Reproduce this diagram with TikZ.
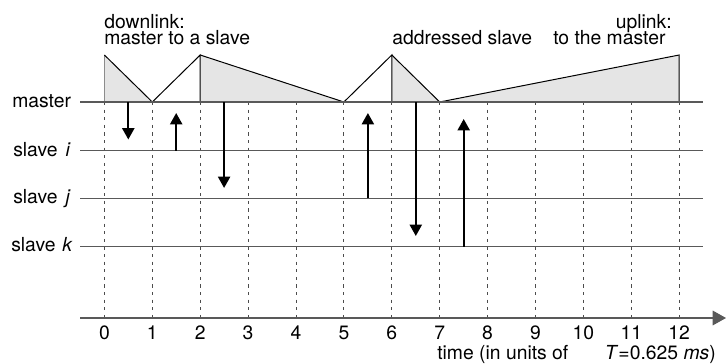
\documentclass[tikz,border=0pt]{standalone}
\usepackage{fontspec}
\setmainfont{TeX Gyre Heros}
\usetikzlibrary{arrows.meta}
\begin{document}
\begin{tikzpicture}[x=0.75pt,y=-0.75pt,
  lbl/.style={inner sep=0pt, font=\fontsize{14.5}{16}\selectfont},
  tl/.style={draw=black!65, line width=0.9pt},
  gridln/.style={draw=black!70, line width=0.75pt, dash pattern=on 2.4pt off 3.3pt},
  sig/.style={draw=black, line width=1.6pt, -{Triangle[length=8.5pt,width=9pt]}},
  slot/.style={draw=black, line width=0.75pt},
  slotfill/.style={fill=black!10, draw=none},
  ]
\useasboundingbox (0,0) rectangle (726,364);
% tick coordinates
\foreach \k in {0,...,12}{
  \coordinate (t\k) at ({104.4+47.9*\k},102);
  \coordinate (h\k) at ({104.4+47.9*\k},55);
  \coordinate (b\k) at ({104.4+47.9*\k},318);
}
% slot shapes
\fill[slotfill] (t0) -- (h0) -- (t1) -- cycle;
\fill[slotfill] (t2) -- (h2) -- (t5) -- cycle;
\fill[slotfill] (t6) -- (h6) -- (t7) -- cycle;
\fill[slotfill] (t7) -- (h12) -- (t12) -- cycle;
\draw[draw=black!45, line width=0.75pt] (t0) -- (h0);
\draw[slot] (h0) -- (t1) -- (h2) -- (t2);
\draw[slot] (h2) -- (t5) -- (h6) -- (t6);
\draw[slot] (h6) -- (t7) -- (h12) -- (t12);
% dashed grid
\foreach \k in {0,...,12}{
  \draw[gridln] (t\k) -- (b\k);
}
% time lines
\coordinate (mL) at (80,102);  \coordinate (mR) at (703,102);
\coordinate (iL) at (80,150.7); \coordinate (iR) at (703,150.7);
\coordinate (jL) at (80,198.3); \coordinate (jR) at (703,198.3);
\coordinate (kL) at (80,246.5); \coordinate (kR) at (703,246.5);
\coordinate (aL) at (80,318);   \coordinate (aR) at (726,318);
\draw[tl] (mL) -- (mR);
\draw[tl] (iL) -- (iR);
\draw[tl] (jL) -- (jR);
\draw[tl] (kL) -- (kR);
\draw[tl, -{Triangle[length=10pt,width=11pt]}] (aL) -- (aR);
% labels
\node[lbl, anchor=base west] (lm) at (12,108) {master};
\node[lbl, anchor=base west] (li) at (13,156) {slave\hspace{6pt}\textit{i}};
\node[lbl, anchor=base west] (lj) at (13,203.5) {slave\hspace{6pt}\textit{j}};
\node[lbl, anchor=base west] (lk) at (11,251.5) {slave\hspace{5pt}\textit{k}};
\foreach \k in {0,...,12}{
  \node[lbl, anchor=base] (n\k) at ({104.4+47.9*\k},339) {\k};
}
\node[lbl, anchor=base west] (dl1) at (104,28) {downlink:};
\node[lbl, anchor=base west] (dl2) at (104,45) {master to a slave};
\node[lbl, anchor=base west] (as) at (392,45) {addressed slave};
\node[lbl, anchor=base east] (ul1) at (672,28) {uplink:};
\node[lbl, anchor=base west] (ul2) at (553,45) {to the master};
\node[lbl, anchor=base west] (tm1) at (437,359.5) {time (in units of};
\node[lbl, anchor=base east] (tm2) at (716,359.5) {\textit{T}=0.625 \textit{ms})};
% signal arrows
\coordinate (s1a) at (128.3,102);   \coordinate (s1b) at (128.3,139.5);
\coordinate (s2a) at (176.2,150.7); \coordinate (s2b) at (176.2,113);
\coordinate (s3a) at (224.1,102);   \coordinate (s3b) at (224.1,188);
\coordinate (s4a) at (367.9,198.3); \coordinate (s4b) at (367.9,113);
\coordinate (s5a) at (415.8,102);   \coordinate (s5b) at (415.8,236);
\coordinate (s6a) at (463.7,246.5); \coordinate (s6b) at (463.7,119);
\draw[sig] (s1a) -- (s1b);
\draw[sig] (s2a) -- (s2b);
\draw[sig] (s3a) -- (s3b);
\draw[sig] (s4a) -- (s4b);
\draw[sig] (s5a) -- (s5b);
\draw[sig] (s6a) -- (s6b);
\end{tikzpicture}
\end{document}
